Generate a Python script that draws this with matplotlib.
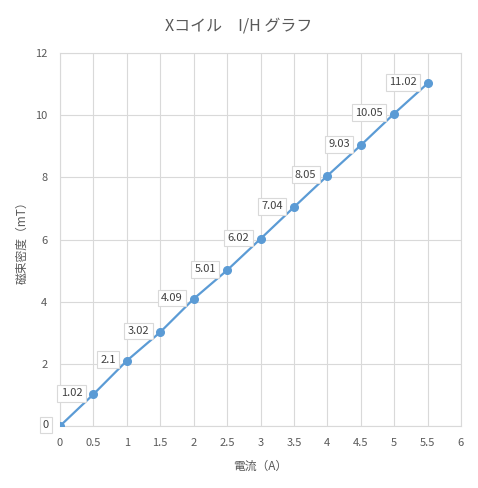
import matplotlib
matplotlib.use("Agg")
import matplotlib.pyplot as plt

plt.rcParams['font.family'] = ['Noto Sans CJK JP', 'DejaVu Sans']

current = [0, 0.5, 1, 1.5, 2, 2.5, 3, 3.5, 4, 4.5, 5, 5.5]
flux = [0, 1.02, 2.1, 3.02, 4.09, 5.01, 6.02, 7.04, 8.05, 9.03, 10.05, 11.02]
labels = ["0", "1.02", "2.1", "3.02", "4.09", "5.01", "6.02", "7.04", "8.05", "9.03", "10.05", "11.02"]
xticks = [0, 0.5, 1, 1.5, 2, 2.5, 3, 3.5, 4, 4.5, 5, 5.5, 6]
yticks = [0, 2, 4, 6, 8, 10, 12]

fig = plt.figure(figsize=(4.78, 4.88), dpi=100)
ax = fig.add_axes([60/478, 1-426/488, 401/478, 373/488])

ax.plot(current, flux, color='#5B9BD5', lw=1.6, marker='o', ms=5.5, zorder=3)
for x, y, t in zip(current, flux, labels):
    ax.annotate(t, (x, y), xytext=(-11, 1), textcoords='offset pixels',
                ha='right', va='center', fontsize=8, color='#404040',
                bbox=dict(boxstyle='square,pad=0.3', fc='white', ec='#D9D9D9', lw=0.8),
                zorder=4, annotation_clip=False)

ax.set_xlim(0, 6)
ax.set_ylim(0, 12)
ax.set_xticks(xticks)
ax.set_xticklabels([f"{v:g}" for v in xticks])
ax.set_yticks(yticks)
ax.grid(True, color='#D9D9D9', lw=0.8)
ax.set_axisbelow(True)
for s in ax.spines.values():
    s.set_color('#D9D9D9')
    s.set_linewidth(0.8)
ax.tick_params(length=0, labelsize=8, colors='#595959')
ax.tick_params(axis='x', pad=9)
ax.tick_params(axis='y', pad=9)

fig.text(0.5, 1-26/488, "Xコイル　I/H グラフ", fontsize=11.5, color='#595959',
         ha='center', va='center')
ax.set_xlabel("電流（A）", fontsize=8.5, color='#595959', labelpad=8)
ax.set_ylabel("磁束密度（mT）", fontsize=8.5, color='#595959')
ax.yaxis.set_label_coords((22 - 60) / 401, 0.5)
ax.yaxis.label.set_va('center')

fig.savefig("out.png", dpi=100)
